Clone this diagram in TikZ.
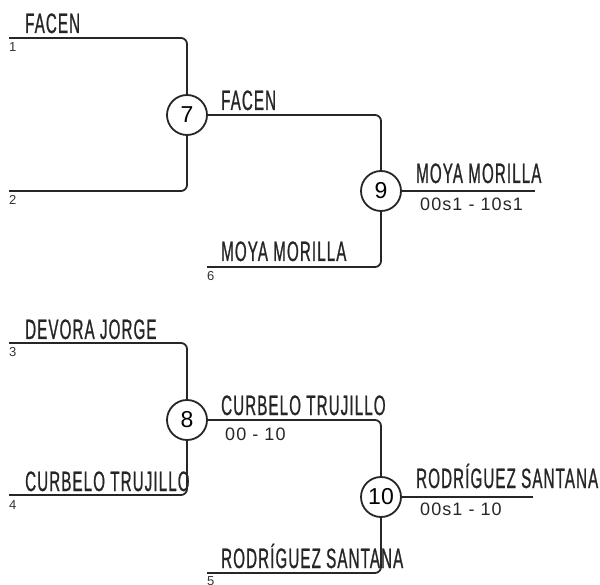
\documentclass[tikz,border=0pt]{standalone}
\usepackage{fontspec}
\setmainfont{Liberation Sans}
\newfontfamily\teamfont[FakeStretch=0.54,LetterSpace=4,FakeBold=0.8]{Liberation Sans}
\newfontfamily\scorefont[LetterSpace=6]{Liberation Sans}
\begin{document}
\begin{tikzpicture}[x=1pt,y=-1pt,
  match/.style={circle,draw=black!85,line width=1.8pt,minimum size=40pt,inner sep=0pt,font=\fontsize{23}{23}\selectfont},
  team/.style={anchor=base west,inner sep=0pt,text=black!85,font=\teamfont\fontsize{28}{28}\selectfont},
  seed/.style={anchor=base west,inner sep=0pt,text=black!80,font=\fontsize{13}{13}\selectfont},
  score/.style={anchor=base west,inner sep=0pt,text=black!85,font=\scorefont\fontsize{18}{18}\selectfont},
  bracket/.style={draw=black!85,line width=1.8pt,rounded corners=6pt}]
\useasboundingbox (0,0) rectangle (600,585);

% upper half
\coordinate (p1) at (9,38);
\coordinate (p2) at (9,191);
\coordinate (p6) at (207,267);
\coordinate (w9) at (535,191);
\node[match] (m7) at (187,115) {7};
\node[match] (m9) at (381,191) {9};

\node[seed] (s1) at (9,52) {1};
\node[seed] (s2) at (9,205) {2};
\node[seed] (s6) at (207,281) {6};

\node[team] (t1) at (25,33) {FACEN};
\node[team] (t7) at (221,110) {FACEN};
\node[team] (t6) at (221,261) {MOYA MORILLA};
\node[team] (t9) at (416,183) {MOYA MORILLA};
\node[score] (r9) at (420,211) {00s1 - 10s1};

\draw[bracket] (p1) -| (m7.north); \draw[bracket] (p2) -| (m7.south);
\draw[bracket] (m7.east) -| (m9.north); \draw[bracket] (p6) -| (m9.south);
\draw[bracket] (m9.east) -- (w9);

% lower half
\coordinate (p3) at (9,343);
\coordinate (p4) at (9,495);
\coordinate (p5) at (207,573);
\coordinate (w10) at (533,497);
\node[match] (m8) at (187,420) {8};
\node[match] (m10) at (381,497) {10};

\node[seed] (s3) at (9,357) {3};
\node[seed] (s4) at (9,509) {4};
\node[seed] (s5) at (207,585) {5};

\node[team] (t3) at (25,339) {DEVORA JORGE};
\node[team] (t4) at (25,491) {CURBELO TRUJILLO};
\node[team] (t8) at (221,415) {CURBELO TRUJILLO};
\node[score] (r8) at (225,440) {00 - 10};
\node[team] (t5) at (221,568) {RODRÍGUEZ SANTANA};
\node[team] (t10) at (416,488) {RODRÍGUEZ SANTANA};
\node[score] (r10) at (420,515) {00s1 - 10};

\draw[bracket] (p3) -| (m8.north); \draw[bracket] (p4) -| (m8.south);
\draw[bracket] (m8.east) -| (m10.north); \draw[bracket] (p5) -| (m10.south);
\draw[bracket] (m10.east) -- (w10);

\end{tikzpicture}
\end{document}
